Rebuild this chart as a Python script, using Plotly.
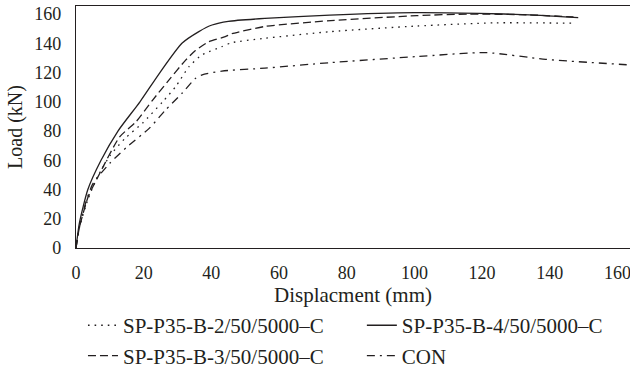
import plotly.graph_objects as go

# SP-P35-B-2/50/5000-C (dotted)
b2_x = [0, 1, 3.5, 6, 10, 14.5, 19.7, 25.6, 29.5, 33.4, 37.2, 43.1, 46, 55.8, 75.3, 100.7, 124, 147]
b2_y = [0, 14, 33, 47, 63, 75, 85.5, 100, 110.5, 124, 132, 137.7, 140.4, 143.4, 148, 151.8, 154, 153.7]

# SP-P35-B-4/50/5000-C (solid)
b4_x = [0, 1, 3.5, 7.4, 12.4, 18.9, 24.8, 31.3, 36.3, 40.2, 45, 55.8, 75, 100, 119, 134, 148.4]
b4_y = [0, 17, 40, 60, 80, 100, 120, 140, 148, 152.5, 155, 157, 159.3, 161, 160.5, 159.4, 157.5]

# SP-P35-B-3/50/5000-C (dashed)
b3_x = [0, 1, 3.6, 7, 12.9, 17.8, 22.6, 27.5, 32.4, 35.3, 39.2, 44.1, 46, 55.8, 75.3, 100.7, 116, 133, 147]
b3_y = [0, 14, 35, 51, 76, 86.5, 101, 115, 128.5, 135, 141, 144.5, 146.5, 151.5, 155.5, 158.9, 160, 159.5, 158]

# CON (dash-dot)
con_x = [0, 1, 3, 5, 10, 15, 21.7, 26.5, 31.4, 35.3, 37.3, 43.1, 55.8, 75.3, 100.7, 121.2, 138.8, 165]
con_y = [0, 14, 32, 44, 58, 69, 82, 94.5, 106, 116, 118.4, 121, 123, 126.8, 130.9, 133.6, 129, 125]

x_ticks = [0, 20, 40, 60, 80, 100, 120, 140, 160]
y_ticks = [0, 20, 40, 60, 80, 100, 120, 140, 160]

INK = "#231f20"
FONT = "Liberation Serif"

fig = go.Figure()
series = [
    ("SP-P35-B-2/50/5000–C", b2_x, b2_y, "1.6px,5px", "legend", "g1"),
    ("SP-P35-B-3/50/5000–C", b3_x, b3_y, "8px,4px", "legend", "g2"),
    ("SP-P35-B-4/50/5000–C", b4_x, b4_y, "solid", "legend2", "g3"),
    ("CON", con_x, con_y, "8px,5px,2px,5px", "legend2", "g4"),
]
for name, xs, ys, dash, leg, grp in series:
    fig.add_trace(go.Scatter(
        x=xs, y=ys, name=name, mode="lines",
        line=dict(color=INK, width=1.3, dash=dash, shape="spline", smoothing=0.6),
        legend=leg, legendgroup=grp,
    ))

legend_common = dict(
    orientation="v", yanchor="top", xanchor="left",
    font=dict(family=FONT, size=21, color=INK),
    bgcolor="rgba(0,0,0,0)", traceorder="grouped", tracegroupgap=0,
    itemwidth=30,
)

fig.update_layout(
    width=630, height=372,
    margin=dict(l=76, r=0, t=6, b=124, autoexpand=False),
    paper_bgcolor="white", plot_bgcolor="white",
    font=dict(family=FONT, color=INK),
    showlegend=True,
    legend=dict(x=0.0126, y=-0.236, **legend_common),
    legend2=dict(x=0.516, y=-0.236, **legend_common),
    xaxis=dict(
        range=[0, 163.7], tickvals=x_ticks, ticktext=[str(v) for v in x_ticks],
        showgrid=False, zeroline=False, showline=True, linecolor=INK, linewidth=1.3,
        mirror=True, ticks="", ticklabelstandoff=8, ticklabeloverflow="allow",
        tickfont=dict(family=FONT, size=18, color=INK),
        title=dict(text="Displacment (mm)", font=dict(family=FONT, size=21, color=INK), standoff=3),
        automargin=False,
    ),
    yaxis=dict(
        range=[0, 165.5], tickvals=y_ticks, ticktext=[str(v) for v in y_ticks],
        showgrid=False, zeroline=False, showline=True, linecolor=INK, linewidth=1.3,
        mirror=True, ticks="", ticklabelstandoff=10, ticklabeloverflow="allow",
        tickfont=dict(family=FONT, size=18, color=INK),
        title=dict(text="Load (kN)", font=dict(family=FONT, size=20, color=INK), standoff=6),
        automargin=False,
    ),
)

fig.write_html("out.html", config={"displayModeBar": False},
               post_script="document.body.style.margin='0';")
